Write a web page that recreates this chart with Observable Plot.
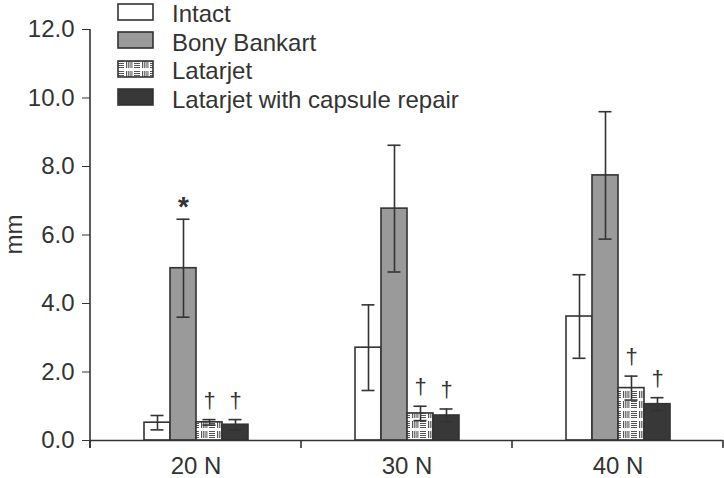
<!DOCTYPE html>
<html>
<head>
<meta charset="utf-8">
<script src="https://cdn.jsdelivr.net/npm/d3@7"></script>
<script src="https://cdn.jsdelivr.net/npm/@observablehq/plot@0.6"></script>
<style>
  html, body { margin: 0; padding: 0; background: white; }
  #wrap { position: relative; width: 724px; height: 478px; font-family: "Liberation Sans", Arial, sans-serif; color: #333; }
  #legend { position: absolute; left: 117px; top: 0px; font-size: 24px; }
  .row { display: flex; align-items: flex-start; height: 28.5px; }
  .row svg { flex: none; margin-top: 2.5px; }
  .row span { margin-left: 18px; line-height: normal; }
</style>
</head>
<body>
<div id="wrap"><div id="legend"></div></div>
<script>
const groups = ["20 N", "30 N", "40 N"];
const series = ["Intact", "Bony Bankart", "Latarjet", "Latarjet with capsule repair"];

const intactMean = [0.52, 2.71, 3.62];
const intactErr = [0.21, 1.25, 1.22];
const bonyMean = [5.03, 6.77, 7.74];
const bonyErr = [1.43, 1.85, 1.86];
const latarjetMean = [0.53, 0.79, 1.53];
const latarjetErr = [0.08, 0.21, 0.35];
const capsuleMean = [0.46, 0.73, 1.06];
const capsuleErr = [0.15, 0.19, 0.19];

const intactSig = ["", "", ""];
const bonySig = ["*", "", ""];
const latarjetSig = ["†", "†", "†"];
const capsuleSig = ["†", "†", "†"];

const yTicks = [0, 2, 4, 6, 8, 10, 12];

const means = [intactMean, bonyMean, latarjetMean, capsuleMean];
const errs = [intactErr, bonyErr, latarjetErr, capsuleErr];
const sigs = [intactSig, bonySig, latarjetSig, capsuleSig];

const data = [];
series.forEach((s, i) => groups.forEach((g, j) => {
  data.push({group: g, series: s, mean: means[i][j], lo: means[i][j] - errs[i][j], hi: means[i][j] + errs[i][j], sig: sigs[i][j]});
}));
const stars = data.filter(d => d.sig === "*");
const daggers = data.filter(d => d.sig === "†");

const ink = "#333";
const fills = ["white", "#9a9a9a", "url(#latarjetPattern)", "#383838"];

const chart = Plot.plot({
  width: 724,
  height: 478,
  marginLeft: 90,
  marginRight: 1,
  marginTop: 29,
  marginBottom: 38,
  style: {fontFamily: "'Liberation Sans', Arial, sans-serif", fontSize: "24px", color: ink, background: "white", overflow: "visible"},
  fx: {domain: groups, padding: 0, label: null, tickSize: 0, tickPadding: 16},
  x: {domain: series, paddingInner: 0, paddingOuter: 1.95, axis: null},
  y: {domain: [0, 12], ticks: yTicks, tickFormat: d3.format(".1f"), tickSize: 8, tickPadding: 8, label: null},
  color: {domain: series, range: fills},
  marks: [
    Plot.barY(data, {fx: "group", x: "series", y: "mean", fill: "series", stroke: ink, strokeWidth: 1.6}),
    Plot.ruleX(data, {fx: "group", x: "series", y1: "lo", y2: "hi", stroke: ink, strokeWidth: 1.6}),
    Plot.tickY(data, {fx: "group", x: "series", y: "hi", stroke: ink, strokeWidth: 1.6, insetLeft: 6.5, insetRight: 6.5}),
    Plot.tickY(data, {fx: "group", x: "series", y: "lo", stroke: ink, strokeWidth: 1.6, insetLeft: 6.5, insetRight: 6.5}),
    Plot.ruleY([0], {stroke: ink, strokeWidth: 1.6}),
    Plot.text(daggers, {fx: "group", x: "series", y: "hi", text: "sig", dy: -19, lineAnchor: "middle", fontSize: 22, fill: ink}),
    Plot.text(stars, {fx: "group", x: "series", y: "hi", text: "sig", dy: -12, lineAnchor: "middle", fontSize: 28, fontWeight: "bold", fill: ink})
  ]
});

const svg = d3.select(chart);
// pattern for Latarjet
const defs = svg.insert("defs", ":first-child");
const pat = defs.append("pattern").attr("id", "latarjetPattern").attr("patternUnits", "userSpaceOnUse")
  .attr("width", 16).attr("height", 10);
pat.append("rect").attr("width", 16).attr("height", 10).attr("fill", "white");
for (let k = 0; k < 4; k++) pat.append("line").attr("x1", 1).attr("x2", 7).attr("y1", 1.5 + 2 * k).attr("y2", 1.5 + 2 * k).attr("stroke", "#555").attr("stroke-width", 1);
for (let k = 0; k < 4; k++) pat.append("line").attr("x1", 9.5 + 1.8 * k).attr("x2", 9.5 + 1.8 * k).attr("y1", 1).attr("y2", 8).attr("stroke", "#555").attr("stroke-width", 1);

const y = chart.scale("y");
const fx = chart.scale("fx");
const y0 = y.apply(0);
// y axis line
svg.append("line").attr("x1", 90).attr("x2", 90).attr("y1", y.apply(12)).attr("y2", y0 + 8)
  .attr("stroke", ink).attr("stroke-width", 1.6);
// group boundary ticks
const bounds = groups.map(g => fx.apply(g)).concat([fx.apply(groups[groups.length - 1]) + fx.bandwidth]);
bounds.forEach(bx => svg.append("line").attr("x1", bx).attr("x2", bx).attr("y1", y0).attr("y2", y0 + 8)
  .attr("stroke", ink).attr("stroke-width", 1.6));
// y label
svg.append("text").attr("transform", `translate(14,${(y.apply(12) + y0) / 2}) rotate(-90)`)
  .attr("text-anchor", "middle").attr("dy", "0.35em").attr("fill", ink).attr("font-size", 24).text("mm");

document.getElementById("wrap").prepend(chart);

// legend
const legend = d3.select("#legend");
series.forEach((s, i) => {
  const row = legend.append("div").attr("class", "row");
  const sw = row.append("svg").attr("width", 37).attr("height", 18);
  sw.append("rect").attr("x", 1).attr("y", 1).attr("width", 35).attr("height", 16)
    .attr("fill", fills[i]).attr("stroke", ink).attr("stroke-width", 1.6);
  row.append("span").text(s);
});
</script>
</body>
</html>
